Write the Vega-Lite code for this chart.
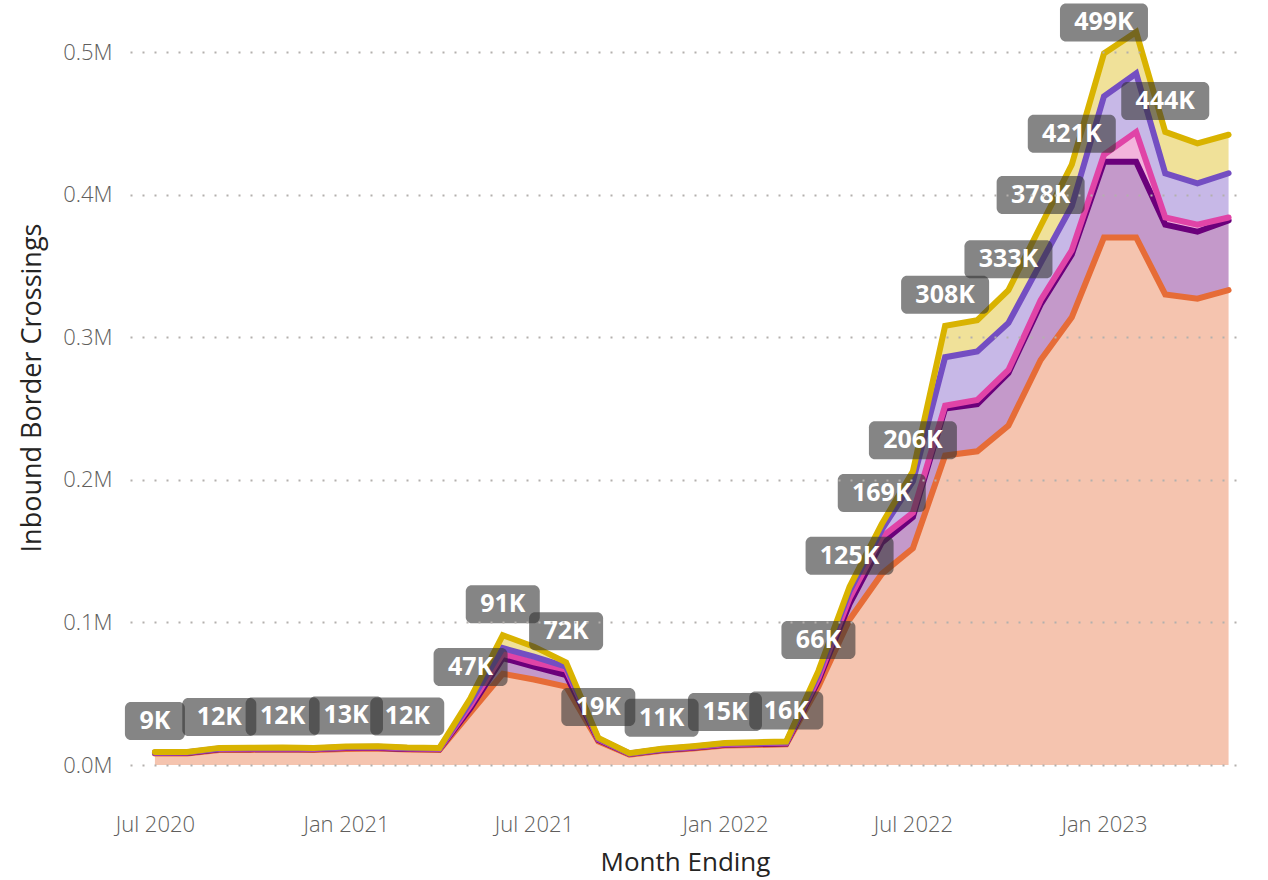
{
  "$schema": "https://vega.github.io/schema/vega-lite/v6.json",
  "autosize": "none",
  "width": 1110,
  "height": 755,
  "padding": {"left": 130, "top": 10, "right": 28, "bottom": 115},
  "background": "white",
  "config": {"view": {"stroke": null}, "font": "Open Sans"},
  "data": {
    "values": [
      {"month": "2020-07-01", "Segment E": 8000, "Segment D": 400, "Segment C": 200, "Segment B": 200, "Segment A": 300},
      {"month": "2020-08-01", "Segment E": 8100, "Segment D": 400, "Segment C": 200, "Segment B": 200, "Segment A": 300},
      {"month": "2020-09-01", "Segment E": 10500, "Segment D": 500, "Segment C": 300, "Segment B": 300, "Segment A": 400},
      {"month": "2020-10-01", "Segment E": 10600, "Segment D": 500, "Segment C": 300, "Segment B": 300, "Segment A": 400},
      {"month": "2020-11-01", "Segment E": 10800, "Segment D": 500, "Segment C": 300, "Segment B": 300, "Segment A": 400},
      {"month": "2020-12-01", "Segment E": 10500, "Segment D": 500, "Segment C": 300, "Segment B": 300, "Segment A": 400},
      {"month": "2021-01-01", "Segment E": 11300, "Segment D": 600, "Segment C": 300, "Segment B": 400, "Segment A": 400},
      {"month": "2021-02-01", "Segment E": 11500, "Segment D": 500, "Segment C": 400, "Segment B": 400, "Segment A": 400},
      {"month": "2021-03-01", "Segment E": 10800, "Segment D": 500, "Segment C": 300, "Segment B": 300, "Segment A": 400},
      {"month": "2021-04-01", "Segment E": 10500, "Segment D": 500, "Segment C": 300, "Segment B": 300, "Segment A": 400},
      {"month": "2021-05-01", "Segment E": 37000, "Segment D": 3000, "Segment C": 2000, "Segment B": 2500, "Segment A": 2500},
      {"month": "2021-06-01", "Segment E": 64000, "Segment D": 11000, "Segment C": 3000, "Segment B": 4000, "Segment A": 9000},
      {"month": "2021-07-01", "Segment E": 60000, "Segment D": 9000, "Segment C": 3000, "Segment B": 4000, "Segment A": 7000},
      {"month": "2021-08-01", "Segment E": 55000, "Segment D": 8000, "Segment C": 4000, "Segment B": 2000, "Segment A": 3000},
      {"month": "2021-09-01", "Segment E": 16500, "Segment D": 1000, "Segment C": 500, "Segment B": 500, "Segment A": 500},
      {"month": "2021-10-01", "Segment E": 7300, "Segment D": 400, "Segment C": 200, "Segment B": 200, "Segment A": 200},
      {"month": "2021-11-01", "Segment E": 10000, "Segment D": 500, "Segment C": 300, "Segment B": 300, "Segment A": 300},
      {"month": "2021-12-01", "Segment E": 11500, "Segment D": 600, "Segment C": 300, "Segment B": 400, "Segment A": 400},
      {"month": "2022-01-01", "Segment E": 13600, "Segment D": 600, "Segment C": 400, "Segment B": 400, "Segment A": 400},
      {"month": "2022-02-01", "Segment E": 14000, "Segment D": 700, "Segment C": 400, "Segment B": 400, "Segment A": 500},
      {"month": "2022-03-01", "Segment E": 14500, "Segment D": 600, "Segment C": 400, "Segment B": 500, "Segment A": 400},
      {"month": "2022-04-01", "Segment E": 55000, "Segment D": 4000, "Segment C": 2000, "Segment B": 3000, "Segment A": 2000},
      {"month": "2022-05-01", "Segment E": 102000, "Segment D": 11000, "Segment C": 4000, "Segment B": 5000, "Segment A": 3000},
      {"month": "2022-06-01", "Segment E": 134000, "Segment D": 22000, "Segment C": 4000, "Segment B": 5000, "Segment A": 4000},
      {"month": "2022-07-01", "Segment E": 152000, "Segment D": 22000, "Segment C": 3000, "Segment B": 22000, "Segment A": 7000},
      {"month": "2022-08-01", "Segment E": 217000, "Segment D": 33000, "Segment C": 2000, "Segment B": 34000, "Segment A": 22000},
      {"month": "2022-09-01", "Segment E": 220000, "Segment D": 33000, "Segment C": 3000, "Segment B": 34000, "Segment A": 22000},
      {"month": "2022-10-01", "Segment E": 238000, "Segment D": 37000, "Segment C": 2000, "Segment B": 33000, "Segment A": 23000},
      {"month": "2022-11-01", "Segment E": 284000, "Segment D": 39000, "Segment C": 3000, "Segment B": 26000, "Segment A": 26000},
      {"month": "2022-12-01", "Segment E": 314000, "Segment D": 44000, "Segment C": 3000, "Segment B": 31000, "Segment A": 29000},
      {"month": "2023-01-01", "Segment E": 370000, "Segment D": 53000, "Segment C": 5000, "Segment B": 41000, "Segment A": 30000},
      {"month": "2023-02-01", "Segment E": 370000, "Segment D": 53000, "Segment C": 21000, "Segment B": 41000, "Segment A": 29000},
      {"month": "2023-03-01", "Segment E": 330000, "Segment D": 49000, "Segment C": 5000, "Segment B": 31000, "Segment A": 29000},
      {"month": "2023-04-01", "Segment E": 327000, "Segment D": 47000, "Segment C": 5000, "Segment B": 29000, "Segment A": 28000},
      {"month": "2023-05-01", "Segment E": 333000, "Segment D": 49000, "Segment C": 2000, "Segment B": 31000, "Segment A": 27000}
    ]
  },
  "transform": [
    {"fold": ["Segment E", "Segment D", "Segment C", "Segment B", "Segment A"], "as": ["segment", "crossings"]}
  ],
  "encoding": {
    "x": {
      "field": "month",
      "type": "temporal",
      "scale": {
        "type": "utc",
        "domain": [
          {"year": 2020, "month": 6, "date": 7, "utc": true},
          {"year": 2023, "month": 5, "date": 12, "utc": true}
        ]
      },
      "axis": {
        "title": "Month Ending",
        "format": "%b %Y",
        "tickCount": {"interval": "month", "step": 6},
        "labelOverlap": false,
        "labelFlush": false,
        "labelFontSize": 22,
        "labelFontWeight": 300,
        "labelColor": "#605E5C",
        "labelPadding": 49,
        "ticks": false,
        "domain": false,
        "grid": false,
        "titleFontSize": 26,
        "titleFontWeight": "normal",
        "titleColor": "#252423",
        "titlePadding": 14
      }
    }
  },
  "layer": [
    {
      "mark": {"type": "area", "opacity": 0.4},
      "encoding": {
        "y": {
          "field": "crossings",
          "type": "quantitative",
          "stack": "zero",
          "scale": {"domain": [0, 529500], "nice": false},
          "axis": {
            "title": "Inbound Border Crossings",
            "values": [0, 100000, 200000, 300000, 400000, 500000],
            "labelExpr": "format(datum.value / 1000000, '.1f') + 'M'",
            "grid": true,
            "gridDash": [2, 10],
            "gridColor": "#B3B0AD",
            "gridWidth": 2,
            "ticks": false,
            "domain": false,
            "labelFontSize": 22,
            "labelFontWeight": 300,
            "labelColor": "#605E5C",
            "labelPadding": 18,
            "titleFontSize": 27,
            "titleFontWeight": "normal",
            "titleColor": "#252423",
            "titlePadding": 16,
            "zindex": 1
          }
        },
        "color": {
          "field": "segment",
          "type": "nominal",
          "scale": {
            "domain": ["Segment E", "Segment D", "Segment C", "Segment B", "Segment A"],
            "range": ["#E66C37", "#6B007B", "#E044A7", "#744EC2", "#D9B300"]
          },
          "legend": null
        }
      }
    },
    {
      "mark": {"type": "line", "strokeWidth": 6, "strokeJoin": "miter", "strokeCap": "round"},
      "encoding": {
        "y": {
          "field": "crossings",
          "type": "quantitative",
          "stack": "zero",
          "scale": {"domain": [0, 529500], "nice": false},
          "title": "Inbound Border Crossings"
        },
        "color": {"field": "segment", "type": "nominal", "legend": null}
      }
    },
    {
      "transform": [
        {"aggregate": [{"op": "sum", "field": "crossings", "as": "total"}], "groupby": ["month"]},
        {"filter": "indexof(['2020-07','2020-09','2020-11','2021-01','2021-03','2021-05','2021-06','2021-08','2021-09','2021-11','2022-01','2022-03','2022-04','2022-05','2022-06','2022-07','2022-08','2022-10','2022-11','2022-12','2023-01','2023-03'], utcFormat(datum.month, '%Y-%m')) >= 0"},
        {"calculate": "format(datum.total / 1000, '.0f') + 'K'", "as": "label"}
      ],
      "layer": [
        {
          "mark": {
            "type": "rect",
            "fill": "#333333",
            "fillOpacity": 0.6,
            "cornerRadius": 6,
            "xOffset": {"expr": "-(7 * length(datum.label) + 16)"},
            "x2Offset": {"expr": "7 * length(datum.label) + 16"},
            "yOffset": -50,
            "y2Offset": -12
          },
          "encoding": {
            "x2": {"field": "month"},
            "y": {"field": "total", "type": "quantitative", "scale": {"domain": [0, 529500], "nice": false}, "title": "Inbound Border Crossings"},
            "y2": {"field": "total"}
          }
        },
        {
          "mark": {"type": "text", "color": "white", "fontSize": 25, "fontWeight": "bold", "dy": -31, "baseline": "middle", "align": "center"},
          "encoding": {
            "y": {"field": "total", "type": "quantitative", "scale": {"domain": [0, 529500], "nice": false}, "title": "Inbound Border Crossings"},
            "text": {"field": "label"}
          }
        }
      ]
    }
  ]
}
